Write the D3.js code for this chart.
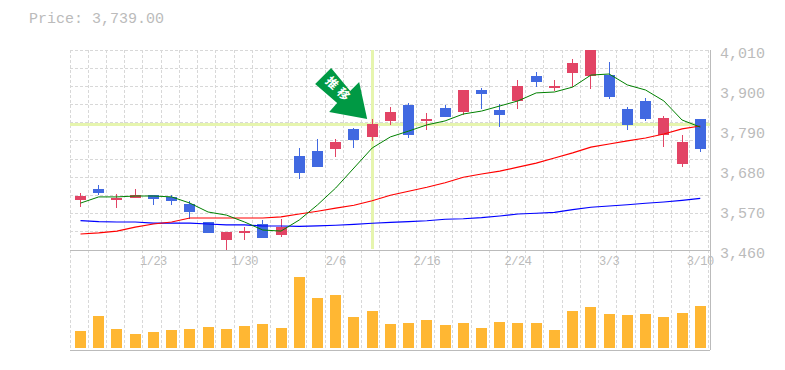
<!DOCTYPE html>
<html>
<head>
<meta charset="utf-8">
<script src="https://cdn.jsdelivr.net/npm/d3@7"></script>
<style>
  html, body { margin: 0; padding: 0; background: #fff; }
  svg { display: block; }
  text { font-family: "Liberation Mono", monospace; fill: #bbb; }
</style>
</head>
<body>
<div id="chart"></div>
<script>
var days = ["1/17","1/18","1/19","1/20","1/23","1/24","1/25","1/26","1/27","1/30",
  "1/31","2/1","2/2","2/3","2/6","2/7","2/8","2/9","2/10","2/16",
  "2/17","2/20","2/21","2/22","2/24","2/27","2/28","3/1","3/2","3/3",
  "3/6","3/7","3/8","3/9","3/10"];
var labelDays = ["1/23","1/30","2/6","2/16","2/24","3/3","3/10"];

var opens = [3608.5,3617,3603,3611,3600,3595,3564.5,3507,3509.5,3512,
  3493,3523,3672,3688,3757,3762.5,3806.5,3839.5,3776,3820,
  3826,3900,3889,3831,3911,3922,3911,3974,4010,3881,
  3804,3820,3823,3757,3738];
var highs = [3617,3639,3614,3628,3611,3611,3595,3537,3509.5,3523,
  3542.5,3545,3740.5,3765,3765,3795.5,3820,3853,3864,3837,
  3859,3900,3905.5,3861.5,3927.5,3949.5,3927.5,3985,4010,3977,
  3853,3878,3828.5,3776,3820];
var lows = [3578,3611,3575.5,3603,3584,3584,3545,3507,3460,3487.5,
  3493,3496,3655,3688,3716,3740.5,3760,3804,3768,3790,
  3826,3831,3848,3798,3848,3908,3897,3908,3903,3875,
  3790,3815,3743,3688,3729.5];
var closes = [3597.5,3628,3597.5,3603,3611,3606,3586.5,3537,3487.5,3507,
  3531.5,3501,3718.5,3732,3738,3793,3771,3815,3859,3815,
  3850.5,3839.5,3900,3845,3870,3938.5,3905.5,3947,3938.5,3941,
  3848,3870,3776,3696.5,3820];

var ma5 = [3589,3606,3606,3608.5,3608.5,3606,3589,3564.5,3556,3537,
  3515,3512,3542.5,3584,3630.5,3685.5,3740.5,3771,3787,3804,
  3815,3834,3842,3856,3870,3892,3894.5,3908,3941,3944,
  3914,3900,3870,3817.5,3798];
var ma25 = [3504,3507,3512,3523,3531.5,3537,3548,3548,3548,3548,
  3548,3551,3559,3566.5,3575,3583,3595.5,3610.5,3621.5,3632.5,
  3645,3660,3669,3677,3688,3699,3713,3727,3743,3751.5,
  3760,3768,3779,3793,3801];
var ma75 = [3541,3538,3537,3537,3534,3534,3534,3531.5,3529,3529,
  3526,3526,3525,3526.5,3528,3530.5,3533.5,3536,3538,3540.5,
  3544.5,3546,3549,3553.5,3559,3561,3563.5,3571,3577.5,3581,
  3584.5,3588.5,3592,3596.5,3602];

var volume = [17,32,19,14,16,18,19,21,19,22,24,20,71,50,53,31,37,24,
  25,28,23,25,20,26,25,25,18,37,41,34,33,34,31,35,42];

var priceTicks = [3460,3570,3680,3790,3900,4010];
var priceText = "Price: 3,739.00";
var arrowText = "\u63A8\u79FB";
var crossDay = "2/8";
var crossPrice = 3806.5;

var width = 785, height = 370;
var plotLeft = 70, plotRight = 710, plotTop = 50, plotMid = 250, plotBottom = 350;

var svg = d3.select("#chart").append("svg").attr("width", width).attr("height", height);

var x = d3.scaleBand().domain(days).range([plotLeft, plotLeft + 638]);
var y = d3.scaleLinear().domain([3460, 4010]).range([plotMid, plotTop]);
var yVol = d3.scaleLinear().domain([0, 98]).range([348, plotMid]);
var centre = (d) => x(d) + 10.5;

// Title
svg.append("text").attr("x", 29).attr("y", 23).style("font-size", "15px").text(priceText);

// Grid
var grid = svg.append("g").attr("stroke", "#d8d8d8").attr("stroke-dasharray", "3,2").attr("shape-rendering", "crispEdges");
grid.selectAll(".h").data(d3.range(3510, 4010, 50).concat(4010)).join("line").attr("class", "h")
  .attr("x1", plotLeft).attr("x2", plotRight).attr("y1", (d) => y(d)).attr("y2", (d) => y(d));
grid.selectAll(".v").data(days.concat(["end"])).join("line").attr("class", "v")
  .attr("x1", (d) => (d === "end" ? plotLeft + 638 : x(d))).attr("x2", (d) => (d === "end" ? plotLeft + 638 : x(d)))
  .attr("y1", plotTop).attr("y2", plotBottom);

// Crosshair
var cross = svg.append("g").attr("stroke", "#e6f5ae").attr("stroke-width", 3).attr("shape-rendering", "crispEdges");
cross.append("line").attr("x1", plotLeft).attr("x2", plotRight).attr("y1", y(crossPrice)).attr("y2", y(crossPrice));
cross.append("line").attr("x1", centre(crossDay)).attr("x2", centre(crossDay)).attr("y1", plotTop).attr("y2", plotMid - 1);

// Frame
var frame = svg.append("g").attr("stroke", "#bbb").attr("shape-rendering", "crispEdges");
frame.append("line").attr("x1", plotLeft).attr("x2", plotRight).attr("y1", plotMid).attr("y2", plotMid);
frame.append("line").attr("x1", plotLeft).attr("x2", plotRight).attr("y1", plotBottom).attr("y2", plotBottom);
frame.append("line").attr("x1", plotRight).attr("x2", plotRight).attr("y1", plotTop).attr("y2", plotBottom);

// Price ticks
svg.append("g").selectAll("text").data(priceTicks).join("text")
  .attr("x", 720).attr("y", (d) => y(d) + 8).style("font-size", "15px")
  .text(d3.format(","));

// Date ticks
svg.append("g").selectAll("text").data(labelDays).join("text")
  .attr("x", centre).attr("y", plotMid + 15).attr("text-anchor", "middle")
  .style("font-size", "12px").style("letter-spacing", "-0.5px")
  .text((d) => d);

// Volume
svg.append("g").attr("fill", "#ffb733").attr("shape-rendering", "crispEdges")
  .selectAll("rect").data(days).join("rect")
  .attr("x", (d) => x(d) + 5).attr("width", 11)
  .attr("y", (d, i) => yVol(volume[i])).attr("height", (d, i) => yVol(0) - yVol(volume[i]));

// Candles: blue closes above open, red below
var candleColour = (i) => (closes[i] >= opens[i] ? "#4169e1" : "#e24465");
var candles = svg.append("g").attr("shape-rendering", "crispEdges");
candles.selectAll("line").data(days).join("line")
  .attr("x1", centre).attr("x2", centre)
  .attr("y1", (d, i) => y(highs[i])).attr("y2", (d, i) => y(lows[i]))
  .attr("stroke", (d, i) => candleColour(i));
candles.selectAll("rect").data(days).join("rect")
  .attr("x", (d) => x(d) + 5).attr("width", 11)
  .attr("y", (d, i) => y(Math.max(opens[i], closes[i])))
  .attr("height", (d, i) => Math.abs(y(opens[i]) - y(closes[i])))
  .attr("fill", (d, i) => candleColour(i));

// Moving averages
var line = d3.line().x((d, i) => centre(days[i])).y((d) => y(d));
[[ma75, "#0000ff", 1.2], [ma25, "#ff0000", 1.2], [ma5, "#008000", 1]].forEach(([values, colour, weight]) => {
  svg.append("path").attr("d", line(values)).attr("fill", "none")
    .attr("stroke", colour).attr("stroke-width", weight);
});

// Arrow annotation, tip just left of the crosshair
var arrow = svg.append("g")
  .attr("transform", "translate(" + (centre(crossDay) - 5) + "," + (y(crossPrice) - 5) + ")");
arrow.append("path").attr("fill", "#009944")
  .attr("d", "M0,0L-8,-37L-17,-28L-36,-51L-52,-35L-30,-16L-38,-7Z");
arrow.append("text").attr("transform", "translate(-28,-29) rotate(45)")
  .attr("text-anchor", "middle").attr("dy", "0.35em")
  .style("font-family", '"Noto Sans CJK JP"').style("font-size", "12px").style("font-weight", "bold")
  .style("letter-spacing", "4px").style("fill", "#fff")
  .text(arrowText);
</script>
</body>
</html>
